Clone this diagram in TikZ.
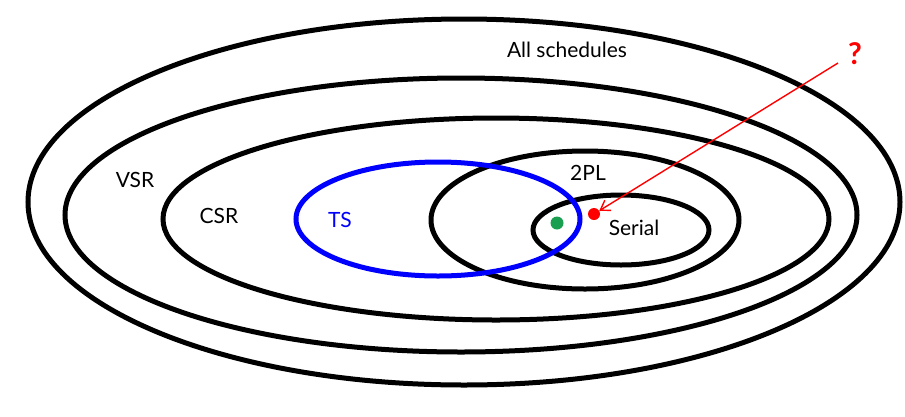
\documentclass[tikz,border=0pt]{standalone}
\usepackage{fontspec}
\setmainfont{Lato}
\usetikzlibrary{shapes.geometric,arrows.meta}

\definecolor{dotgreen}{HTML}{1A9F50}

\tikzset{
  setline/.style={draw=black, line width=5pt, ellipse, inner sep=0pt},
  setlabel/.style={font=\fontsize{21}{24}\selectfont, inner sep=1pt},
  dotnode/.style={circle, inner sep=0pt, minimum size=13pt},
}

\begin{document}
\begin{tikzpicture}[x=1pt, y=-1pt]
    \useasboundingbox (0,0) rectangle (905,416);

    % Nested sets: name / centre x / centre y / width / height
    \foreach \name/\cx/\cy/\w/\h in {all/464/202/872/366, vsr/461/215/792/274,
        csr/496/219/666/202, tpl/585/220/308/138, serial/621/230/176/70} {
        \node[setline, minimum width=\w pt, minimum height=\h pt] (\name) at (\cx,\cy) {};
    }
    % Timestamp set, drawn in blue
    \node[setline, draw=blue, minimum width=284pt, minimum height=114pt] (ts) at (438,219) {};

    % Set labels
    \node[setlabel] (lall) at (567,50) {All schedules};
    \node[setlabel] (lvsr) at (135,180) {VSR};
    \node[setlabel] (lcsr) at (219,216) {CSR};
    \node[setlabel, text=blue] (lts) at (340,220) {TS};
    \node[setlabel] (ltpl) at (588,173) {2PL};
    \node[setlabel] (lserial) at (634,228) {Serial};

    % Sample schedules
    \node[dotnode, fill=dotgreen] (green) at (557,223) {};
    \node[dotnode, fill=red, minimum size=12pt] (reddot) at (594,214) {};

    % Question mark pointing at the red schedule
    \node[font=\fontsize{30}{32}\selectfont\bfseries, text=red] (ques) at (855,54) {?};
    \coordinate (qtail) at (838,63);
    \draw[red, line width=1.4pt, -{Straight Barb[length=9pt, width=12pt]}] (qtail) -- (reddot);
\end{tikzpicture}
\end{document}
